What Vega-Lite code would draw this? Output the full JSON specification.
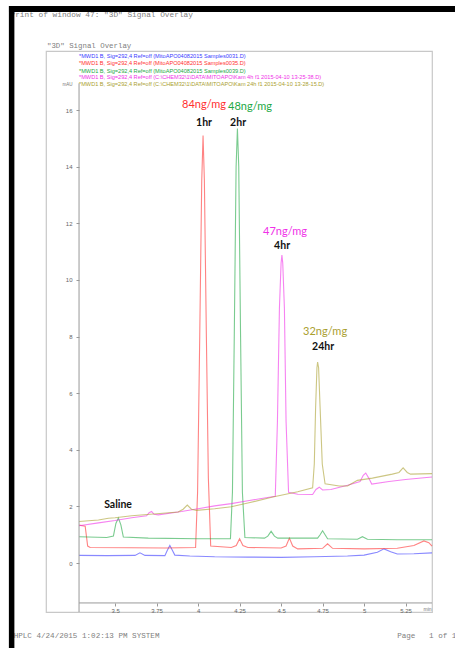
{
  "$schema": "https://vega.github.io/schema/vega-lite/v6.json",
  "autosize": "none",
  "width": 386,
  "height": 561,
  "padding": {"left": 46, "top": 51, "right": 23, "bottom": 36},
  "background": "white",
  "config": {
    "view": {"stroke": "#c8c8c8", "strokeWidth": 1.2},
    "axis": {"labelFont": "Liberation Sans", "labelFontSize": 6, "labelColor": "#666", "tickColor": "#999", "grid": false, "labelOverlap": false, "labelFlush": false}
  },
  "datasets": {
    "traces": [
      {"s": "Samples0031", "t": 3.283, "v": 0.27}, {"s": "Samples0031", "t": 3.45, "v": 0.26}, {"s": "Samples0031", "t": 3.62, "v": 0.27}, {"s": "Samples0031", "t": 3.65, "v": 0.36}, {"s": "Samples0031", "t": 3.68, "v": 0.27}, {"s": "Samples0031", "t": 3.8, "v": 0.26}, {"s": "Samples0031", "t": 3.815, "v": 0.45}, {"s": "Samples0031", "t": 3.83, "v": 0.62}, {"s": "Samples0031", "t": 3.845, "v": 0.45}, {"s": "Samples0031", "t": 3.86, "v": 0.28}, {"s": "Samples0031", "t": 3.95, "v": 0.25}, {"s": "Samples0031", "t": 4.1, "v": 0.22}, {"s": "Samples0031", "t": 4.3, "v": 0.21}, {"s": "Samples0031", "t": 4.5, "v": 0.2}, {"s": "Samples0031", "t": 4.7, "v": 0.22}, {"s": "Samples0031", "t": 4.9, "v": 0.25}, {"s": "Samples0031", "t": 5.0, "v": 0.28}, {"s": "Samples0031", "t": 5.08, "v": 0.38}, {"s": "Samples0031", "t": 5.12, "v": 0.5}, {"s": "Samples0031", "t": 5.16, "v": 0.4}, {"s": "Samples0031", "t": 5.2, "v": 0.32}, {"s": "Samples0031", "t": 5.3, "v": 0.33}, {"s": "Samples0031", "t": 5.409, "v": 0.36},
      {"s": "Samples0035", "t": 3.283, "v": 1.34}, {"s": "Samples0035", "t": 3.32, "v": 1.3}, {"s": "Samples0035", "t": 3.335, "v": 0.6}, {"s": "Samples0035", "t": 3.35, "v": 0.55}, {"s": "Samples0035", "t": 3.6, "v": 0.54}, {"s": "Samples0035", "t": 3.8, "v": 0.53}, {"s": "Samples0035", "t": 3.985, "v": 0.55}, {"s": "Samples0035", "t": 3.997, "v": 2.5}, {"s": "Samples0035", "t": 4.01, "v": 8}, {"s": "Samples0035", "t": 4.022, "v": 13.5}, {"s": "Samples0035", "t": 4.03, "v": 15.1}, {"s": "Samples0035", "t": 4.038, "v": 13.5}, {"s": "Samples0035", "t": 4.05, "v": 8}, {"s": "Samples0035", "t": 4.062, "v": 3}, {"s": "Samples0035", "t": 4.076, "v": 0.6}, {"s": "Samples0035", "t": 4.2, "v": 0.55}, {"s": "Samples0035", "t": 4.23, "v": 0.62}, {"s": "Samples0035", "t": 4.25, "v": 0.86}, {"s": "Samples0035", "t": 4.27, "v": 0.62}, {"s": "Samples0035", "t": 4.3, "v": 0.55}, {"s": "Samples0035", "t": 4.5, "v": 0.53}, {"s": "Samples0035", "t": 4.53, "v": 0.6}, {"s": "Samples0035", "t": 4.55, "v": 0.88}, {"s": "Samples0035", "t": 4.57, "v": 0.6}, {"s": "Samples0035", "t": 4.6, "v": 0.5}, {"s": "Samples0035", "t": 4.75, "v": 0.52}, {"s": "Samples0035", "t": 4.78, "v": 0.68}, {"s": "Samples0035", "t": 4.81, "v": 0.52}, {"s": "Samples0035", "t": 5.0, "v": 0.5}, {"s": "Samples0035", "t": 5.2, "v": 0.52}, {"s": "Samples0035", "t": 5.3, "v": 0.62}, {"s": "Samples0035", "t": 5.36, "v": 0.78}, {"s": "Samples0035", "t": 5.39, "v": 0.72}, {"s": "Samples0035", "t": 5.409, "v": 0.6},
      {"s": "Samples0039", "t": 3.283, "v": 0.93}, {"s": "Samples0039", "t": 3.45, "v": 0.9}, {"s": "Samples0039", "t": 3.49, "v": 0.95}, {"s": "Samples0039", "t": 3.505, "v": 1.4}, {"s": "Samples0039", "t": 3.52, "v": 1.59}, {"s": "Samples0039", "t": 3.535, "v": 1.35}, {"s": "Samples0039", "t": 3.55, "v": 0.92}, {"s": "Samples0039", "t": 3.7, "v": 0.88}, {"s": "Samples0039", "t": 4.0, "v": 0.86}, {"s": "Samples0039", "t": 4.195, "v": 0.86}, {"s": "Samples0039", "t": 4.207, "v": 2.5}, {"s": "Samples0039", "t": 4.218, "v": 8}, {"s": "Samples0039", "t": 4.229, "v": 14}, {"s": "Samples0039", "t": 4.237, "v": 15.35}, {"s": "Samples0039", "t": 4.245, "v": 14}, {"s": "Samples0039", "t": 4.256, "v": 8}, {"s": "Samples0039", "t": 4.267, "v": 2.5}, {"s": "Samples0039", "t": 4.282, "v": 0.9}, {"s": "Samples0039", "t": 4.4, "v": 0.88}, {"s": "Samples0039", "t": 4.42, "v": 0.95}, {"s": "Samples0039", "t": 4.44, "v": 1.12}, {"s": "Samples0039", "t": 4.46, "v": 0.95}, {"s": "Samples0039", "t": 4.48, "v": 0.88}, {"s": "Samples0039", "t": 4.72, "v": 0.88}, {"s": "Samples0039", "t": 4.735, "v": 1.0}, {"s": "Samples0039", "t": 4.75, "v": 1.14}, {"s": "Samples0039", "t": 4.765, "v": 1.0}, {"s": "Samples0039", "t": 4.78, "v": 0.86}, {"s": "Samples0039", "t": 4.96, "v": 0.84}, {"s": "Samples0039", "t": 4.99, "v": 0.93}, {"s": "Samples0039", "t": 5.02, "v": 0.84}, {"s": "Samples0039", "t": 5.2, "v": 0.82}, {"s": "Samples0039", "t": 5.409, "v": 0.82},
      {"s": "Kam 4h f1", "t": 3.283, "v": 1.32}, {"s": "Kam 4h f1", "t": 3.4, "v": 1.42}, {"s": "Kam 4h f1", "t": 3.5, "v": 1.5}, {"s": "Kam 4h f1", "t": 3.6, "v": 1.6}, {"s": "Kam 4h f1", "t": 3.69, "v": 1.67}, {"s": "Kam 4h f1", "t": 3.705, "v": 1.78}, {"s": "Kam 4h f1", "t": 3.72, "v": 1.82}, {"s": "Kam 4h f1", "t": 3.735, "v": 1.72}, {"s": "Kam 4h f1", "t": 3.76, "v": 1.7}, {"s": "Kam 4h f1", "t": 3.9, "v": 1.82}, {"s": "Kam 4h f1", "t": 4.0, "v": 1.92}, {"s": "Kam 4h f1", "t": 4.1, "v": 2.02}, {"s": "Kam 4h f1", "t": 4.2, "v": 2.1}, {"s": "Kam 4h f1", "t": 4.3, "v": 2.2}, {"s": "Kam 4h f1", "t": 4.4, "v": 2.3}, {"s": "Kam 4h f1", "t": 4.465, "v": 2.36}, {"s": "Kam 4h f1", "t": 4.478, "v": 5}, {"s": "Kam 4h f1", "t": 4.49, "v": 9}, {"s": "Kam 4h f1", "t": 4.5, "v": 10.6}, {"s": "Kam 4h f1", "t": 4.505, "v": 10.88}, {"s": "Kam 4h f1", "t": 4.51, "v": 10.6}, {"s": "Kam 4h f1", "t": 4.52, "v": 9}, {"s": "Kam 4h f1", "t": 4.53, "v": 5}, {"s": "Kam 4h f1", "t": 4.545, "v": 2.5}, {"s": "Kam 4h f1", "t": 4.6, "v": 2.43}, {"s": "Kam 4h f1", "t": 4.69, "v": 2.42}, {"s": "Kam 4h f1", "t": 4.71, "v": 2.6}, {"s": "Kam 4h f1", "t": 4.73, "v": 2.68}, {"s": "Kam 4h f1", "t": 4.75, "v": 2.58}, {"s": "Kam 4h f1", "t": 4.8, "v": 2.6}, {"s": "Kam 4h f1", "t": 4.9, "v": 2.75}, {"s": "Kam 4h f1", "t": 4.976, "v": 2.88}, {"s": "Kam 4h f1", "t": 4.995, "v": 3.1}, {"s": "Kam 4h f1", "t": 5.01, "v": 3.18}, {"s": "Kam 4h f1", "t": 5.028, "v": 3.0}, {"s": "Kam 4h f1", "t": 5.046, "v": 2.79}, {"s": "Kam 4h f1", "t": 5.15, "v": 2.88}, {"s": "Kam 4h f1", "t": 5.25, "v": 2.95}, {"s": "Kam 4h f1", "t": 5.409, "v": 3.04},
      {"s": "Kam 24h f1", "t": 3.283, "v": 1.47}, {"s": "Kam 24h f1", "t": 3.4, "v": 1.52}, {"s": "Kam 24h f1", "t": 3.46, "v": 1.58}, {"s": "Kam 24h f1", "t": 3.5, "v": 1.6}, {"s": "Kam 24h f1", "t": 3.6, "v": 1.67}, {"s": "Kam 24h f1", "t": 3.75, "v": 1.74}, {"s": "Kam 24h f1", "t": 3.88, "v": 1.8}, {"s": "Kam 24h f1", "t": 3.91, "v": 1.9}, {"s": "Kam 24h f1", "t": 3.935, "v": 2.05}, {"s": "Kam 24h f1", "t": 3.96, "v": 1.9}, {"s": "Kam 24h f1", "t": 3.99, "v": 1.86}, {"s": "Kam 24h f1", "t": 4.1, "v": 1.92}, {"s": "Kam 24h f1", "t": 4.2, "v": 1.99}, {"s": "Kam 24h f1", "t": 4.3, "v": 2.12}, {"s": "Kam 24h f1", "t": 4.45, "v": 2.33}, {"s": "Kam 24h f1", "t": 4.6, "v": 2.52}, {"s": "Kam 24h f1", "t": 4.69, "v": 2.66}, {"s": "Kam 24h f1", "t": 4.7, "v": 3.5}, {"s": "Kam 24h f1", "t": 4.708, "v": 5.5}, {"s": "Kam 24h f1", "t": 4.716, "v": 6.9}, {"s": "Kam 24h f1", "t": 4.72, "v": 7.1}, {"s": "Kam 24h f1", "t": 4.726, "v": 6.9}, {"s": "Kam 24h f1", "t": 4.735, "v": 5.5}, {"s": "Kam 24h f1", "t": 4.748, "v": 3.5}, {"s": "Kam 24h f1", "t": 4.765, "v": 2.8}, {"s": "Kam 24h f1", "t": 4.85, "v": 2.72}, {"s": "Kam 24h f1", "t": 4.9, "v": 2.72}, {"s": "Kam 24h f1", "t": 4.96, "v": 2.92}, {"s": "Kam 24h f1", "t": 5.05, "v": 3.0}, {"s": "Kam 24h f1", "t": 5.17, "v": 3.14}, {"s": "Kam 24h f1", "t": 5.21, "v": 3.2}, {"s": "Kam 24h f1", "t": 5.235, "v": 3.36}, {"s": "Kam 24h f1", "t": 5.26, "v": 3.2}, {"s": "Kam 24h f1", "t": 5.28, "v": 3.14}, {"s": "Kam 24h f1", "t": 5.409, "v": 3.16}
    ],
    "legendRows": [
      {"s": "Samples0031", "t": 3.283, "v": 17.93, "label": "*MWD1 B, Sig=292,4 Ref=off (MitoAPO04082015 Samples0031.D)"},
      {"s": "Samples0035", "t": 3.283, "v": 17.67, "label": "*MWD1 B, Sig=292,4 Ref=off (MitoAPO04082015 Samples0035.D)"},
      {"s": "Samples0039", "t": 3.283, "v": 17.4, "label": "*MWD1 B, Sig=292,4 Ref=off (MitoAPO04082015 Samples0039.D)"},
      {"s": "Kam 4h f1", "t": 3.283, "v": 17.16, "label": "*MWD1 B, Sig=292,4 Ref=off (C:\\CHEM32\\1\\DATA\\MITOAPO\\Kam 4h f1 2015-04-10 13-25-38.D)"},
      {"s": "Kam 24h f1", "t": 3.283, "v": 16.91, "label": "*MWD1 B, Sig=292,4 Ref=off (C:\\CHEM32\\1\\DATA\\MITOAPO\\Kam 24h f1 2015-04-10 13-28-15.D)"}
    ],
    "conc": [
      {"s": "Samples0035", "t": 4.036, "v": 16.18, "label": "84ng/mg"},
      {"s": "Samples0039", "t": 4.313, "v": 16.11, "label": "48ng/mg"},
      {"s": "Kam 4h f1", "t": 4.524, "v": 11.7, "label": "47ng/mg"},
      {"s": "Kam 24h f1", "t": 4.765, "v": 8.16, "label": "32ng/mg"}
    ],
    "times": [
      {"t": 4.036, "v": 15.55, "label": "1hr"},
      {"t": 4.241, "v": 15.55, "label": "2hr"},
      {"t": 4.506, "v": 11.2, "label": "4hr"},
      {"t": 4.753, "v": 7.63, "label": "24hr"},
      {"t": 3.518, "v": 2.05, "label": "Saline"}
    ]
  },
  "layer": [
    {
      "data": {"name": "traces"},
      "mark": {"type": "line", "strokeWidth": 1.1, "opacity": 0.6},
      "encoding": {
        "x": {
          "field": "t", "type": "quantitative",
          "scale": {"domain": [3.084, 5.409], "nice": false, "zero": false},
          "axis": {
            "values": [3.5, 3.75, 4, 4.25, 4.5, 4.75, 5, 5.25],
            "format": ".3~g",
            "labelOverlap": false,
            "labelFlush": false,
            "labelPadding": 1,
            "offset": -9,
            "domain": false,
            "tickSize": 3,
            "title": "min",
            "titleFont": "Liberation Sans",
            "titleFontSize": 5,
            "titleFontWeight": "normal",
            "titleColor": "#777",
            "titleX": 381,
            "titleY": 5,
            "titleAlign": "center",
            "titleBaseline": "middle"
          }
        },
        "y": {
          "field": "v", "type": "quantitative",
          "scale": {"domain": [-1.73, 18.09], "nice": false, "zero": false},
          "axis": {
            "values": [0, 2, 4, 6, 8, 10, 12, 14, 16],
            "format": "d",
            "labelOverlap": false,
            "labelFlush": false,
            "labelPadding": 4,
            "offset": -33,
            "domain": false,
            "tickSize": 3,
            "title": "mAU",
            "titleAngle": 0,
            "titleFont": "Liberation Sans",
            "titleFontSize": 4.5,
            "titleFontWeight": "normal",
            "titleColor": "#777",
            "titleX": -12,
            "titleY": 33,
            "titleAlign": "center",
            "titleBaseline": "middle"
          }
        },
        "color": {
          "field": "s", "type": "nominal",
          "scale": {
            "domain": ["Samples0031", "Samples0035", "Samples0039", "Kam 4h f1", "Kam 24h f1"],
            "range": ["#3a3aff", "#ff3030", "#22a844", "#f030e8", "#aaa030"]
          },
          "legend": null
        }
      }
    },
    {
      "data": {"name": "legendRows"},
      "mark": {"type": "text", "align": "left", "baseline": "middle", "font": "Liberation Sans", "fontSize": 5.6},
      "encoding": {
        "x": {"field": "t", "type": "quantitative"},
        "y": {"field": "v", "type": "quantitative"},
        "text": {"field": "label"},
        "color": {"field": "s", "type": "nominal", "legend": null}
      }
    },
    {
      "data": {"name": "conc"},
      "mark": {"type": "text", "align": "center", "baseline": "middle", "font": "Lato", "fontSize": 11},
      "encoding": {
        "x": {"field": "t", "type": "quantitative"},
        "y": {"field": "v", "type": "quantitative"},
        "text": {"field": "label"},
        "color": {"field": "s", "type": "nominal", "legend": null}
      }
    },
    {
      "data": {"name": "times"},
      "mark": {"type": "text", "align": "center", "baseline": "middle", "font": "Lato", "fontWeight": "bold", "fontSize": 10.5, "color": "#111"},
      "encoding": {
        "x": {"field": "t", "type": "quantitative"},
        "y": {"field": "v", "type": "quantitative"},
        "text": {"field": "label"}
      }
    },
    {
      "data": {"values": [{}]},
      "mark": {"type": "rule", "color": "#999", "strokeWidth": 1},
      "encoding": {
        "x": {"datum": 3.283, "type": "quantitative"},
        "y": {"datum": -1.73, "type": "quantitative"},
        "y2": {"datum": 16.95}
      }
    },
    {
      "data": {"values": [{}]},
      "mark": {"type": "rule", "color": "#999", "strokeWidth": 1},
      "encoding": {
        "y": {"datum": -1.41, "type": "quantitative"},
        "x": {"datum": 3.283, "type": "quantitative"},
        "x2": {"datum": 5.409}
      }
    },
    {
      "data": {"values": [{}]},
      "mark": {"type": "text", "align": "left", "baseline": "middle", "font": "Liberation Mono", "fontSize": 7.8, "color": "#808080"},
      "encoding": {
        "x": {"datum": 2.87, "type": "quantitative"},
        "y": {"datum": 19.36, "type": "quantitative"},
        "text": {"value": "Print of window 47: \"3D\" Signal Overlay"}
      }
    },
    {
      "data": {"values": [{}]},
      "mark": {"type": "text", "align": "left", "baseline": "middle", "font": "Liberation Mono", "fontSize": 7.4, "color": "#808080"},
      "encoding": {
        "x": {"datum": 3.09, "type": "quantitative"},
        "y": {"datum": 18.27, "type": "quantitative"},
        "text": {"value": "\"3D\" Signal Overlay"}
      }
    },
    {
      "data": {"values": [{}]},
      "mark": {"type": "text", "align": "left", "baseline": "middle", "font": "Liberation Mono", "fontSize": 7.6, "color": "#808080"},
      "encoding": {
        "x": {"datum": 2.889, "type": "quantitative"},
        "y": {"datum": -2.58, "type": "quantitative"},
        "text": {"value": "HPLC 4/24/2015 1:02:13 PM SYSTEM"}
      }
    },
    {
      "data": {"values": [{}]},
      "mark": {"type": "text", "align": "left", "baseline": "middle", "font": "Liberation Mono", "fontSize": 7.6, "color": "#808080"},
      "encoding": {
        "x": {"datum": 5.199, "type": "quantitative"},
        "y": {"datum": -2.58, "type": "quantitative"},
        "text": {"value": "Page\u00a0\u00a0\u00a01 of 1"}
      }
    },
    {
      "data": {"values": [{}]},
      "mark": {"type": "rule", "color": "#000", "strokeWidth": 5.5, "strokeCap": "butt"},
      "encoding": {
        "x": {"datum": 2.877, "type": "quantitative"},
        "y": {"datum": 19.68, "type": "quantitative"},
        "y2": {"datum": -3.0}
      }
    },
    {
      "data": {"values": [{}]},
      "mark": {"type": "rule", "color": "#000", "strokeWidth": 6, "strokeCap": "butt"},
      "encoding": {
        "y": {"datum": 19.576, "type": "quantitative"},
        "x": {"datum": 2.861, "type": "quantitative"},
        "x2": {"datum": 5.548}
      }
    }
  ]
}
